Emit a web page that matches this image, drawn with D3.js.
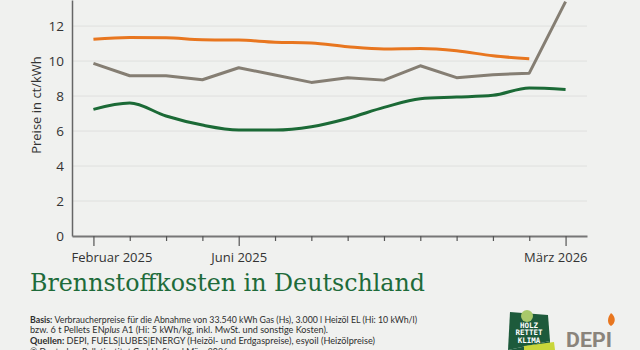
<!DOCTYPE html>
<html>
<head>
<meta charset="utf-8">
<script src="https://cdn.jsdelivr.net/npm/d3@7"></script>
<style>
  body { margin: 0; background: #f0f1ef; }
  svg { display: block; font-family: 'Open Sans', sans-serif; }
</style>
</head>
<body>
<svg id="chart" width="640" height="350"></svg>
<script>
// Monate Februar 2025 bis März 2026
const months = ['2025-02', '2025-03', '2025-04', '2025-05', '2025-06', '2025-07', '2025-08',
  '2025-09', '2025-10', '2025-11', '2025-12', '2026-01', '2026-02', '2026-03']
const tickLabels = { '2025-02': 'Februar 2025', '2025-06': 'Juni 2025', '2026-03': 'März 2026' }
const yTicks = [0, 2, 4, 6, 8, 10, 12]

// Preise in ct/kWh
const heizoel = [11.24, 11.35, 11.33, 11.22, 11.2, 11.08, 11.03, 10.82, 10.69, 10.72, 10.59, 10.3, 10.13, null]
const erdgas = [9.87, 9.16, 9.16, 8.93, 9.62, 9.2, 8.78, 9.05, 8.91, 9.73, 9.05, 9.22, 9.31, 13.4]
const pellets = [7.24, 7.6, 6.86, 6.34, 6.06, 6.06, 6.25, 6.72, 7.35, 7.85, 7.94, 8.04, 8.46, 8.38]

const svg = d3.select('#chart')
const left = 72, right = 587, bottom = 236

const x = d3.scalePoint().domain(months).range([left, right]).padding(0.59)
const y = d3.scaleLinear().domain([0, 13.49]).range([bottom, 0])

// Gitterlinien
svg.append('g').selectAll('line').data(yTicks.slice(1))
  .enter().append('line')
  .attr('x1', left).attr('x2', right)
  .attr('y1', d => y(d)).attr('y2', d => y(d))
  .attr('stroke', '#dfe0de').attr('stroke-width', 1)

// y-Achse
const yAxis = svg.append('g')
  .attr('transform', `translate(${left},0)`)
  .call(d3.axisLeft(y).tickValues(yTicks).tickSize(0).tickPadding(8))
yAxis.select('.domain').attr('stroke', '#666').attr('stroke-width', 1.5)
yAxis.selectAll('text').attr('font-size', 13.5).attr('fill', '#333').attr('font-family', 'Open Sans')

svg.append('text')
  .attr('transform', 'translate(41,105) rotate(-90)')
  .attr('text-anchor', 'middle')
  .attr('font-size', 13).attr('fill', '#333')
  .text('Preise in ct/kWh')

// x-Achse
const xAxis = svg.append('g')
  .attr('transform', `translate(0,${bottom})`)
  .call(d3.axisBottom(x).tickSizeOuter(0).tickSizeInner(5).tickFormat(d => tickLabels[d] || ''))
xAxis.select('.domain').attr('stroke', '#777').attr('stroke-width', 2)
xAxis.selectAll('.tick line').attr('stroke', '#555').attr('stroke-width', 1.2)
  .attr('y2', d => tickLabels[d] ? 10 : 5)
xAxis.selectAll('.tick text')
  .attr('y', 17)
  .attr('font-size', 13).attr('fill', '#333').attr('font-family', 'Open Sans')
  .attr('text-anchor', (d, i) => i === 0 ? 'start' : i === months.length - 1 ? 'end' : 'middle')
  .attr('dx', (d, i) => i === 0 ? left - 1 - x(d) : i === months.length - 1 ? right - x(d) : 0)

// Linien
const series = [
  { values: heizoel, color: '#e8761f', curve: d3.curveMonotoneX },
  { values: erdgas, color: '#857e73', curve: d3.curveLinear },
  { values: pellets, color: '#1b6a36', curve: d3.curveMonotoneX }
]
series.forEach(s => {
  const line = d3.line()
    .defined(d => d != null)
    .x((d, i) => x(months[i]))
    .y(d => y(d))
    .curve(s.curve)
  svg.append('path')
    .datum(s.values)
    .attr('fill', 'none')
    .attr('stroke', s.color)
    .attr('stroke-width', 3)
    .attr('stroke-linejoin', 'round')
    .attr('d', line)
})

// Titel
svg.append('text')
  .attr('x', 30).attr('y', 291)
  .attr('font-family', 'DejaVu Serif').attr('font-size', 24)
  .attr('textLength', 395).attr('lengthAdjust', 'spacingAndGlyphs')
  .attr('fill', '#1e6b3a')
  .text('Brennstoffkosten in Deutschland')

// Fussnote
const notes = svg.append('g').attr('font-size', 10).attr('fill', '#2e2e2e').attr('font-family', 'Lato')
const n1 = notes.append('text').attr('x', 30).attr('y', 322.5)
  .attr('textLength', 387).attr('lengthAdjust', 'spacingAndGlyphs')
n1.append('tspan').attr('font-weight', 'bold').text('Basis: ')
n1.append('tspan').text('Verbraucherpreise für die Abnahme von 33.540 kWh Gas (Hs), 3.000 l Heizöl EL (Hi: 10 kWh/l)')
const n2 = notes.append('text').attr('x', 30).attr('y', 333.3)
  .attr('textLength', 298).attr('lengthAdjust', 'spacingAndGlyphs')
n2.append('tspan').text('bzw. 6 t Pellets EN')
n2.append('tspan').attr('font-style', 'italic').text('plus')
n2.append('tspan').text(' A1 (Hi: 5 kWh/kg, inkl. MwSt. und sonstige Kosten).')
const n3 = notes.append('text').attr('x', 30).attr('y', 344)
  .attr('textLength', 345).attr('lengthAdjust', 'spacingAndGlyphs')
n3.append('tspan').attr('font-weight', 'bold').text('Quellen: ')
n3.append('tspan').text('DEPI, FUELS|LUBES|ENERGY (Heizöl- und Erdgaspreise), esyoil (Heizölpreise)')
notes.append('text').attr('x', 30).attr('y', 355)
  .attr('textLength', 198).attr('lengthAdjust', 'spacingAndGlyphs')
  .text('© Deutsches Pelletinstitut GmbH, Stand März 2026')

// Logos
const holz = svg.append('g')
holz.append('path').attr('d', 'M510,312 L548,315 L550,341 L508,350 Z').attr('fill', '#1d5a3b')
holz.append('path').attr('d', 'M508,350 L550,341 L550,350 Z').attr('fill', '#1d5a3b')
holz.append('circle').attr('cx', 527).attr('cy', 316).attr('r', 6).attr('fill', '#a8c96a')
holz.append('path').attr('d', 'M524,346 L554,342 L555,350 L524,350 Z').attr('fill', '#c9d63a')
holz.selectAll('.w').data(['HOLZ', 'RETTET', 'KLIMA'])
  .enter().append('text')
  .attr('x', 529).attr('y', (d, i) => 327.5 + i * 7.8)
  .attr('text-anchor', 'middle').attr('fill', '#fff')
  .attr('font-family', 'DejaVu Sans Mono').attr('font-weight', 'bold').attr('font-size', 7.5)
  .text(d => d)

svg.append('text')
  .attr('x', 566).attr('y', 347)
  .attr('font-family', 'Roboto').attr('font-weight', 'bold').attr('font-size', 21)
  .attr('fill', '#8a847c').attr('textLength', 46).attr('lengthAdjust', 'spacingAndGlyphs')
  .text('DEPI')
svg.append('path')
  .attr('d', 'M611,313 C616,317 616,323 611,326 C607,324 607,318 611,313 Z')
  .attr('fill', '#e8761f')
</script>
</body>
</html>
